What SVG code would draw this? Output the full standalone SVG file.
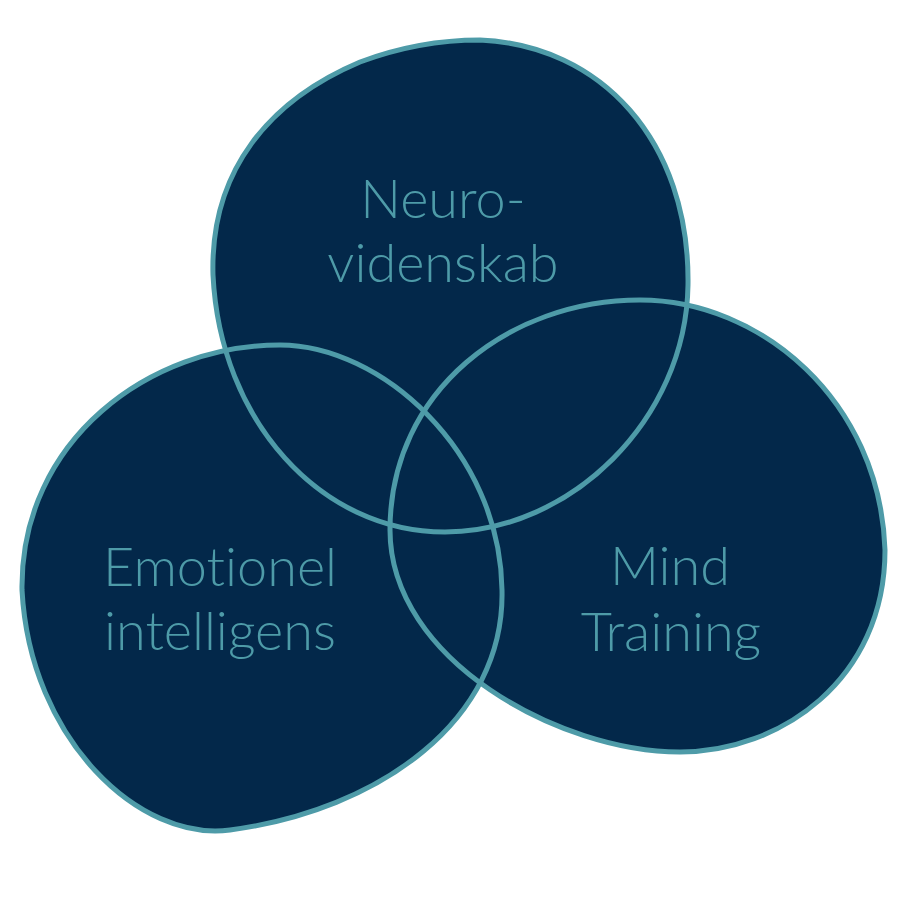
<svg xmlns="http://www.w3.org/2000/svg" xmlns:xlink="http://www.w3.org/1999/xlink" width="900" height="900" viewBox="0 0 900 900">
  <style>
    .fill { fill: #03284a; stroke: none; }
    .outline { fill: none; stroke: #4e9ba8; stroke-width: 5; }
    .label { font-family: Lato, "Open Sans", "Liberation Sans", sans-serif; font-weight: 300; font-size: 54px; fill: #4e9ba8; text-anchor: middle; font-variant-ligatures: none; font-feature-settings: "liga" 0; }
  </style>
  <defs>
    <path id="blob-neuro" d="M213,275 C210,170 270,100 360,62 C400,47 440,40 480,40 C600,45 690,140 688,285 C686,420 570,532 445,532 C320,532 220,420 213,275 Z"/>
    <path id="blob-emo" d="M280,345 C380,345 500,450 502,590 C505,720 380,810 230,830 C140,842 30,740 22,590 C20,440 150,345 280,345 Z"/>
    <path id="blob-mind" d="M640,300 C760,300 880,400 885,550 C885,680 780,752 680,752 C560,752 390,660 390,530 C390,390 510,300 640,300 Z"/>
  </defs>
  <rect width="900" height="900" fill="#ffffff"/>
  <g id="node-neurovidenskab">
    <use xlink:href="#blob-neuro" class="fill"/>
  </g>
  <g id="node-emotionel-intelligens">
    <use xlink:href="#blob-emo" class="fill"/>
  </g>
  <g id="node-mind-training">
    <use xlink:href="#blob-mind" class="fill"/>
  </g>
  <g id="outlines">
    <use xlink:href="#blob-neuro" class="outline"/>
    <use xlink:href="#blob-emo" class="outline"/>
    <use xlink:href="#blob-mind" class="outline"/>
  </g>
  <g id="labels">
    <text class="label" x="443" y="218">Neuro-</text>
    <text class="label" x="443" y="282">videnskab</text>
    <text class="label" x="220" y="586">Emotionel</text>
    <text class="label" x="220" y="650">intelligens</text>
    <text class="label" x="670" y="585">Mind</text>
    <text class="label" x="671" y="651">Training</text>
  </g>
</svg>
